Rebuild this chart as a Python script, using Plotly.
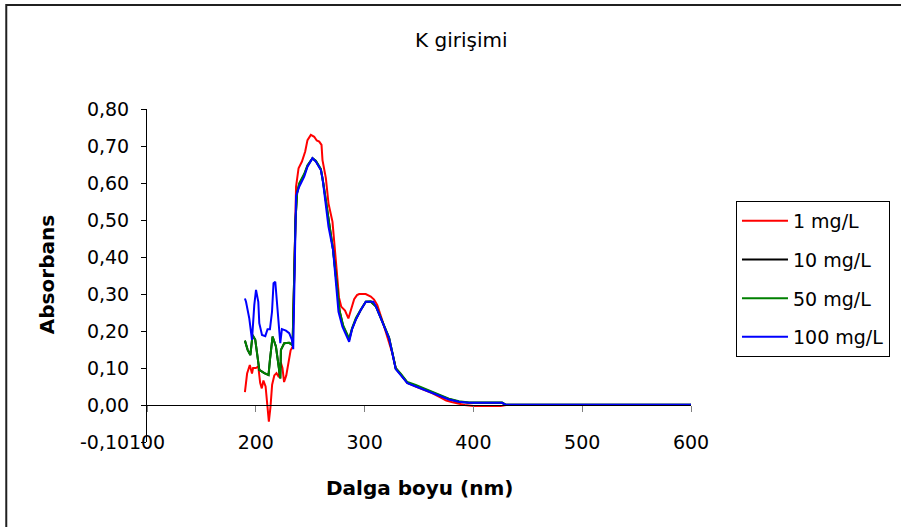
import plotly.graph_objects as go

# UV absorbance spectra of K at four concentrations
wl_1 = [190, 192, 194.5, 196.5, 197.5, 200, 202.3, 204, 205.5, 207, 209, 210.5, 212, 213.5,
        215, 217, 219, 221.3, 223, 224.5, 226, 228, 230, 232, 234, 235.5, 237, 239.3, 242.4,
        245.4, 247.5, 250.6, 253.7, 256, 258.3, 260.4, 261.3, 264.4, 266.8, 270.5, 272.9, 275,
        276.5, 278.5, 282, 285.1, 287.3, 290.4, 293, 295, 301, 305.7, 308.7, 311.7, 316.3,
        320.9, 325.5, 328.6, 333.2, 339.3, 347, 354.6, 362, 370, 375, 380, 385, 392, 400, 410,
        425, 430, 450, 500, 600]
abs_1 = [0.035, 0.085, 0.108, 0.085, 0.100, 0.100, 0.104, 0.060, 0.045, 0.066, 0.050, 0.005,
         -0.045, -0.005, 0.055, 0.080, 0.086, 0.075, 0.115, 0.100, 0.062, 0.080, 0.110, 0.148,
         0.158, 0.400, 0.590, 0.640, 0.658, 0.685, 0.716, 0.730, 0.725, 0.715, 0.712, 0.703,
         0.662, 0.613, 0.545, 0.495, 0.410, 0.330, 0.290, 0.266, 0.255, 0.234, 0.255, 0.286,
         0.297, 0.300, 0.300, 0.293, 0.285, 0.270, 0.228, 0.185, 0.140, 0.100, 0.082, 0.060,
         0.050, 0.041, 0.032, 0.020, 0.012, 0.008, 0.004, 0.000, -0.003, -0.003, -0.003, 0.000,
         0.000, 0.000, 0.000]

wl_10 = [190, 192.5, 195, 197, 199.5, 201.7, 203.2, 207.8, 211.7, 213, 215.4, 218.5, 220.9,
         222.5, 223.1, 226.1, 230.7, 233.8, 236.5, 238, 240, 244.5, 247.5, 252.1, 255.2, 259.8,
         262, 265, 268, 271, 274.3, 277, 280.3, 283.3, 285.8, 288.5, 292, 296.5, 301.1, 305.7,
         310.5, 316.3, 322.5, 325.5, 328.6, 333.2, 339.3, 347, 354.6, 362.2, 369.9, 377.5,
         386.7, 395.9, 426.4, 429.5, 600]
abs_10 = [0.174, 0.149, 0.135, 0.189, 0.176, 0.131, 0.095, 0.086, 0.081, 0.122, 0.185, 0.158,
          0.113, 0.072, 0.149, 0.167, 0.168, 0.162, 0.500, 0.573, 0.598, 0.622, 0.646, 0.667,
          0.659, 0.636, 0.600, 0.545, 0.480, 0.420, 0.318, 0.254, 0.213, 0.192, 0.176, 0.206,
          0.232, 0.257, 0.279, 0.279, 0.266, 0.225, 0.181, 0.141, 0.098, 0.083, 0.060, 0.052,
          0.043, 0.034, 0.025, 0.016, 0.009, 0.006, 0.006, 0.001, 0.001]

wl_50 = [190, 192.5, 195, 197, 199.5, 201.7, 203.2, 207.8, 211.7, 213, 215.4, 218.5, 220.9,
         222.5, 223.1, 226.1, 230.7, 233.8, 236.5, 238, 240, 244.5, 247.5, 252.1, 255.2, 259.8,
         262, 265, 268, 271, 274.3, 277, 280.3, 283.3, 285.8, 288.5, 292, 296.5, 301.1, 305.7,
         310.5, 316.3, 322.5, 325.5, 328.6, 333.2, 339.3, 347, 354.6, 362.2, 369.9, 377.5,
         386.7, 395.9, 426.4, 429.5, 600]
abs_50 = [0.174, 0.149, 0.135, 0.189, 0.176, 0.131, 0.095, 0.086, 0.081, 0.122, 0.185, 0.158,
          0.113, 0.072, 0.149, 0.167, 0.168, 0.162, 0.500, 0.575, 0.600, 0.625, 0.648, 0.667,
          0.660, 0.638, 0.600, 0.545, 0.480, 0.420, 0.320, 0.255, 0.215, 0.195, 0.180, 0.208,
          0.235, 0.258, 0.279, 0.280, 0.266, 0.226, 0.182, 0.142, 0.100, 0.085, 0.062, 0.054,
          0.045, 0.036, 0.026, 0.017, 0.010, 0.007, 0.007, 0.001, 0.001]

wl_100 = [190, 191, 194, 196.5, 198.6, 200.2, 202.3, 203.2, 205.7, 208.7, 210.8, 213, 214.9,
          216.3, 217.9, 219.4, 220.9, 222.5, 224, 227.7, 230.7, 233.2, 234.4, 237, 239.9, 244.5,
          247.5, 252.1, 255.2, 259.8, 261.3, 264.4, 266.8, 271, 274, 276, 279.6, 283.3, 285.8,
          288.5, 291.9, 296.5, 301.1, 305.7, 308, 310.5, 316.3, 322.5, 325.5, 328.6, 333.2,
          339.3, 347, 354.6, 362.2, 369.9, 377.5, 386.7, 395.9, 426.4, 429.5, 600]
abs_100 = [0.288, 0.279, 0.234, 0.176, 0.270, 0.311, 0.279, 0.221, 0.189, 0.186, 0.205, 0.205,
           0.252, 0.329, 0.333, 0.284, 0.230, 0.167, 0.205, 0.201, 0.194, 0.176, 0.151, 0.565,
           0.590, 0.617, 0.644, 0.667, 0.658, 0.635, 0.613, 0.545, 0.482, 0.419, 0.318, 0.252,
           0.212, 0.189, 0.171, 0.205, 0.230, 0.257, 0.279, 0.279, 0.279, 0.266, 0.225, 0.180,
           0.140, 0.097, 0.081, 0.059, 0.050, 0.041, 0.033, 0.024, 0.015, 0.009, 0.006, 0.006,
           0.001, 0.001]

series = [
    ("1 mg/L", wl_1, abs_1, "#FF0000"),
    ("10 mg/L", wl_10, abs_10, "#000000"),
    ("50 mg/L", wl_50, abs_50, "#008000"),
    ("100 mg/L", wl_100, abs_100, "#0000FF"),
]

x_ticks = [100, 200, 300, 400, 500, 600]
y_ticks = [-0.1, 0.0, 0.1, 0.2, 0.3, 0.4, 0.5, 0.6, 0.7, 0.8]
y_tick_labels = ["-0,10", "0,00", "0,10", "0,20", "0,30", "0,40", "0,50", "0,60", "0,70", "0,80"]

FONT = "DejaVu Sans"

fig = go.Figure()
for name, wl, ab, color in series:
    fig.add_trace(go.Scatter(
        x=wl, y=ab, name=name, mode="lines", legendgroup=name,
        line=dict(color=color, width=2),
    ))

y_min, y_max = -0.1, 0.8
zero_pos = (0 - y_min) / (y_max - y_min)

fig.update_layout(
    width=901, height=527,
    margin=dict(l=147, r=209, t=109, b=85),
    paper_bgcolor="white", plot_bgcolor="white",
    separators=",.",
    font=dict(family=FONT, size=19, color="black"),
    showlegend=True,
    legend=dict(
        x=1.0807, y=0.724, xanchor="left", yanchor="top",
        bordercolor="black", borderwidth=1, bgcolor="white",
        font=dict(family=FONT, size=19, color="black"),
        tracegroupgap=11, itemwidth=46,
    ),
    xaxis=dict(
        range=[100, 600], tickvals=x_ticks, showgrid=False, zeroline=False,
        showline=True, linecolor="black", linewidth=1,
        anchor="free", position=zero_pos,
        ticks="outside", ticklen=6, tickcolor="#808080",
        ticklabelstandoff=14,
        tickfont=dict(family=FONT, size=19, color="black"),
    ),
    yaxis=dict(
        range=[y_min, y_max], tickvals=y_ticks, ticktext=y_tick_labels,
        showgrid=False, zeroline=False,
        showline=True, linecolor="black", linewidth=1,
        ticks="outside", ticklen=5, tickcolor="black",
        ticklabelstandoff=8,
        tickfont=dict(family=FONT, size=19, color="black"),
    ),
    annotations=[
        dict(text="K girişimi", xref="paper", yref="paper", x=0.578, y=1.207,
             xanchor="center", yanchor="middle", showarrow=False,
             font=dict(family=FONT, size=20, color="black")),
        dict(text="<b>Dalga boyu (nm)</b>", xref="paper", yref="paper", x=0.501, y=-0.138,
             xanchor="center", yanchor="middle", showarrow=False,
             font=dict(family=FONT, size=20, color="black")),
        dict(text="<b>Absorbans</b>", xref="paper", yref="paper", x=-0.1835, y=0.5015,
             xanchor="center", yanchor="middle", showarrow=False, textangle=-90,
             font=dict(family=FONT, size=20, color="black")),
    ],
    shapes=[
        dict(type="rect", xref="paper", yref="paper",
             x0=-0.2587, y0=-0.27, x1=1.40, y1=1.312,
             line=dict(color="#202020", width=2), fillcolor="rgba(0,0,0,0)", layer="below"),
    ],
)

fig.write_html("out.html")
